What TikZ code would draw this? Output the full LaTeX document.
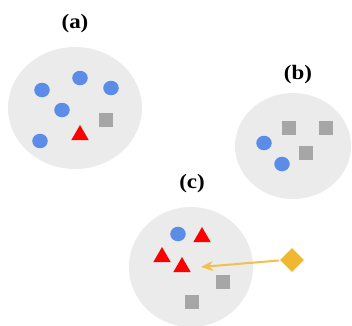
\documentclass[tikz,border=0pt]{standalone}
\usepackage{fontspec}
\setmainfont{Liberation Serif}
\usetikzlibrary{arrows.meta,shapes.geometric}
\definecolor{bgray}{HTML}{EBEBEB}
\definecolor{dotblue}{HTML}{5B8DE8}
\definecolor{sqgray}{HTML}{A6A6A6}
\definecolor{diagold}{HTML}{F0B830}
\definecolor{arrgold}{HTML}{F2C04E}
\tikzset{
  cluster/.style={fill=bgray,draw=none},
  dot/.style={circle,fill=dotblue,draw=none,minimum size=14.5pt,inner sep=0pt,xscale=1.07},
  sq/.style={rectangle,fill=sqgray,draw=none,minimum size=14pt,inner sep=0pt},
  tri/.style={regular polygon,regular polygon sides=3,fill=red,draw=none,minimum size=20pt,inner sep=0pt},
  dia/.style={diamond,fill=diagold,draw=none,minimum size=24pt,inner sep=0pt},
  lab/.style={font=\bfseries\fontsize{20.5}{22}\selectfont,xscale=1.12,inner sep=0pt},
  conn/.style={draw=arrgold,line width=2pt,-{Stealth[length=12pt,width=10pt]}}
}
\begin{document}
\begin{tikzpicture}[x=1pt,y=-1pt]
\useasboundingbox (0,0) rectangle (352,325);
% clusters
\fill[cluster] (75,108) ellipse [x radius=67, y radius=61];
\fill[cluster] (293,146) ellipse [x radius=58, y radius=53];
\fill[cluster] (191,267) ellipse [x radius=62, y radius=60];
% labels
\node[lab] (la) at (75,24) {(a)};
\node[lab] (lb) at (298,75) {(b)};
\node[lab] (lc) at (192,184) {(c)};
% cluster a
\node[dot] (a1) at (42,90) {};
\node[dot] (a2) at (80,78) {};
\node[dot] (a3) at (111,88) {};
\node[dot] (a4) at (62,110) {};
\node[dot] (a5) at (40,141) {};
\node[sq] (a6) at (106,120) {};
\node[tri] (a7) at (80,135) {};
% cluster b
\node[sq] (b1) at (289,128) {};
\node[sq] (b2) at (326,128) {};
\node[sq] (b3) at (306,153) {};
\node[dot] (b4) at (264,143) {};
\node[dot] (b5) at (282,164) {};
% cluster c
\node[dot] (c1) at (178,234) {};
\node[tri] (c2) at (202,237) {};
\node[tri] (c3) at (162,257) {};
\node[tri] (c4) at (182,267) {};
\node[sq] (c5) at (223,282) {};
\node[sq] (c6) at (192,302) {};
\node[dia] (d) at (292,260) {};
\coordinate (tip) at (201,267);
\draw[conn] (d.west) ++(-1,0.5) -- (tip);
\end{tikzpicture}
\end{document}
